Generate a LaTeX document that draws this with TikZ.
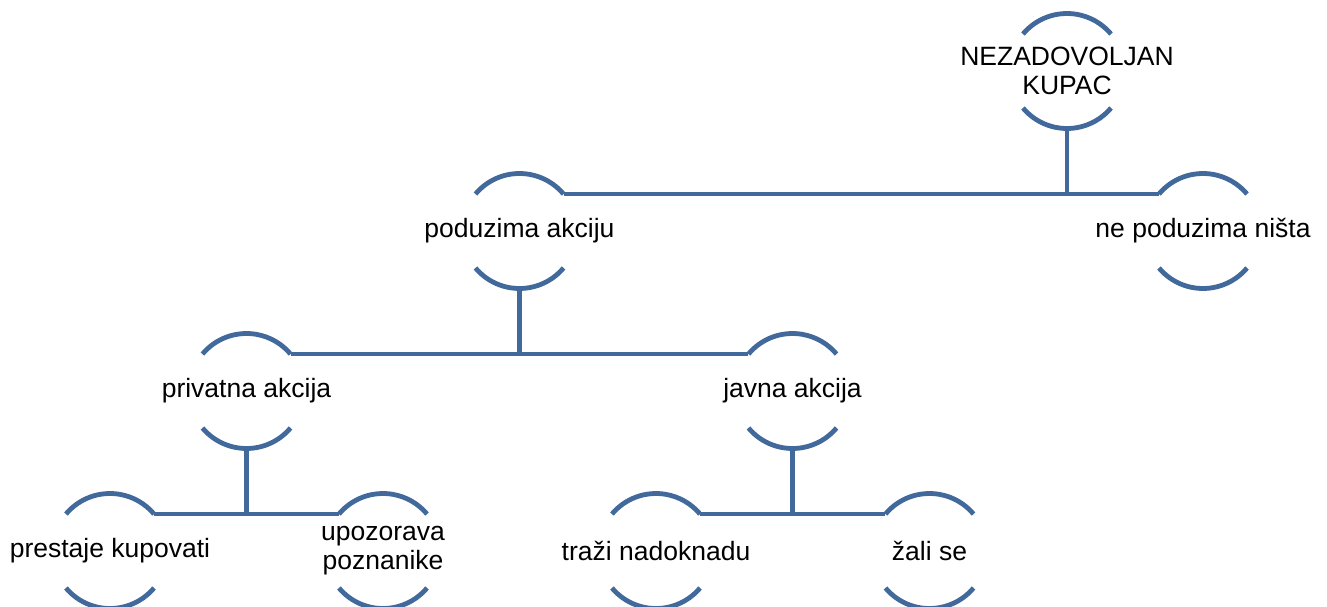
\documentclass[tikz,border=0pt]{standalone}
\usepackage{fontspec}
\setmainfont{Liberation Sans}
\definecolor{arcblue}{RGB}{65,105,156}
\newcommand\Rad{57.5pt}
\tikzset{
  lbl/.style={inner sep=0pt, align=center, font=\fontsize{26.5}{29}\selectfont, text=black},
  arcline/.style={draw=arcblue, line width=4.8pt},
  conn/.style={draw=arcblue, line width=4.8pt},
}
\begin{document}
\begin{tikzpicture}[x=1pt,y=1pt]
\useasboundingbox (0,0) rectangle (1327,-607);
% nodes
\node[lbl] (top) at (1067,-71) {NEZADOVOLJAN\\KUPAC};
\node[lbl] (pod) at (519.5,-231) {poduzima akciju};
\node[lbl] (ne) at (1203,-231) {ne poduzima ništa};
\node[lbl] (priv) at (246.5,-391) {privatna akcija};
\node[lbl] (jav) at (792.5,-391) {javna akcija};
\node[lbl] (pre) at (110,-551) {prestaje kupovati};
\node[lbl] (upo) at (383,-551) {upozorava\\poznanike};
\node[lbl] (tra) at (656,-551) {traži nadoknadu};
\node[lbl] (zal) at (929.5,-551) {žali se};
% arcs around each node
\foreach \n in {top,pod,ne,priv,jav,pre,upo,tra,zal}{
  \draw[arcline] ([shift={(140:\Rad)}]\n.center) arc[start angle=140,end angle=40,radius=\Rad];
  \draw[arcline] ([shift={(220:\Rad)}]\n.center) arc[start angle=220,end angle=320,radius=\Rad];
  \coordinate (\n-L) at ([shift={(140:\Rad)}]\n.center);
  \coordinate (\n-R) at ([shift={(40:\Rad)}]\n.center);
  \coordinate (\n-B) at ([shift={(270:\Rad)}]\n.center);
}
% connectors
\draw[conn] (pod-R) -- (ne-L);
\draw[conn] (top-B) -- (top-B |- pod-R);
\draw[conn] (priv-R) -- (jav-L);
\draw[conn] (pod-B) -- (pod-B |- priv-R);
\draw[conn] (pre-R) -- (upo-L);
\draw[conn] (priv-B) -- (priv-B |- pre-R);
\draw[conn] (tra-R) -- (zal-L);
\draw[conn] (jav-B) -- (jav-B |- tra-R);
\end{tikzpicture}
\end{document}
